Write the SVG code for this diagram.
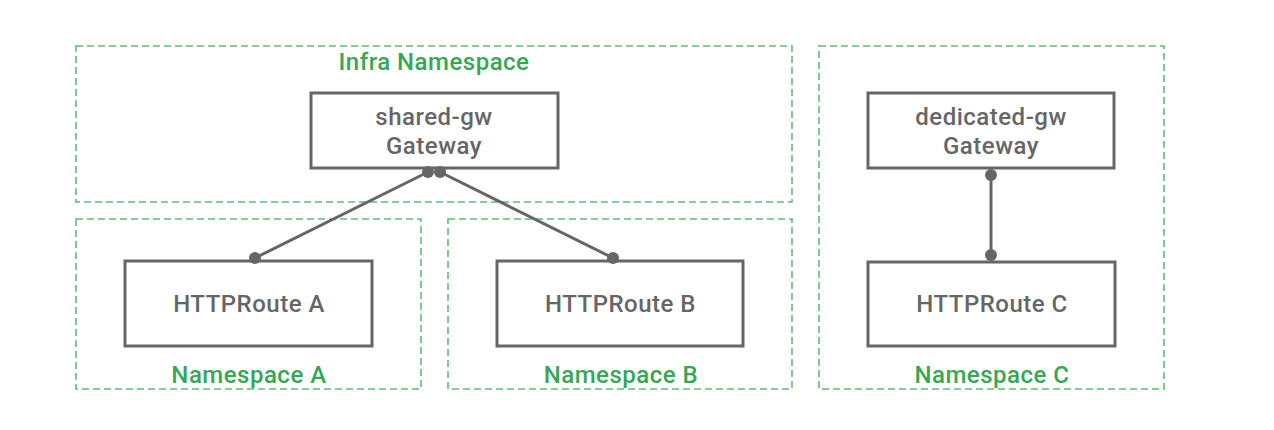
<svg xmlns="http://www.w3.org/2000/svg" width="1274" height="430" viewBox="0 0 1274 430">
<style>
.ns{fill:none;stroke:#5cbf73;stroke-width:1.6;stroke-dasharray:7 4}
.nl{font-family:Roboto,"Liberation Sans",sans-serif;font-weight:500;font-size:24px;letter-spacing:0.5px;fill:#34a853;text-anchor:middle}
.box{fill:#fff;stroke:#666;stroke-width:3}
.bt{font-family:Roboto,"Liberation Sans",sans-serif;font-weight:500;font-size:24px;letter-spacing:0.5px;fill:#666;text-anchor:middle}
.cn{stroke:#666;stroke-width:3;fill:none}
.dot{fill:#666}
</style>
<rect width="1274" height="430" fill="#fff"/>
<g id="ns-infra"><rect class="ns" x="76" y="46" width="716" height="156"/><text class="nl" x="434" y="70">Infra Namespace</text></g>
<g id="ns-a"><rect class="ns" x="76" y="219" width="345" height="170"/><text class="nl" x="249" y="383">Namespace A</text></g>
<g id="ns-b"><rect class="ns" x="448" y="219" width="344" height="170"/><text class="nl" x="621" y="383">Namespace B</text></g>
<g id="ns-c"><rect class="ns" x="819" y="46" width="345" height="343"/><text class="nl" x="992" y="383">Namespace C</text></g>
<g id="shared-gw"><rect class="box" x="311" y="93" width="247" height="75"/><text class="bt" x="434" y="125">shared-gw</text><text class="bt" x="434" y="154">Gateway</text></g>
<g id="dedicated-gw"><rect class="box" x="868" y="93" width="246" height="75"/><text class="bt" x="991" y="125">dedicated-gw</text><text class="bt" x="991" y="154">Gateway</text></g>
<g id="route-a"><rect class="box" x="125" y="261" width="247" height="85"/><text class="bt" x="249" y="312">HTTPRoute A</text></g>
<g id="route-b"><rect class="box" x="497" y="261" width="246" height="85"/><text class="bt" x="620.5" y="312">HTTPRoute B</text></g>
<g id="route-c"><rect class="box" x="868" y="262" width="247" height="84"/><text class="bt" x="992" y="312">HTTPRoute C</text></g>
<g id="connectors">
<line class="cn" x1="428" y1="172" x2="255" y2="258"/>
<line class="cn" x1="440" y1="172" x2="613" y2="258"/>
<line class="cn" x1="991" y1="175" x2="991" y2="255"/>
<circle class="dot" cx="428" cy="172" r="6"/>
<circle class="dot" cx="440" cy="172" r="6"/>
<circle class="dot" cx="255" cy="258" r="6"/>
<circle class="dot" cx="613" cy="258" r="6"/>
<circle class="dot" cx="991" cy="175" r="6"/>
<circle class="dot" cx="991" cy="255" r="6"/>
</g>
</svg>
